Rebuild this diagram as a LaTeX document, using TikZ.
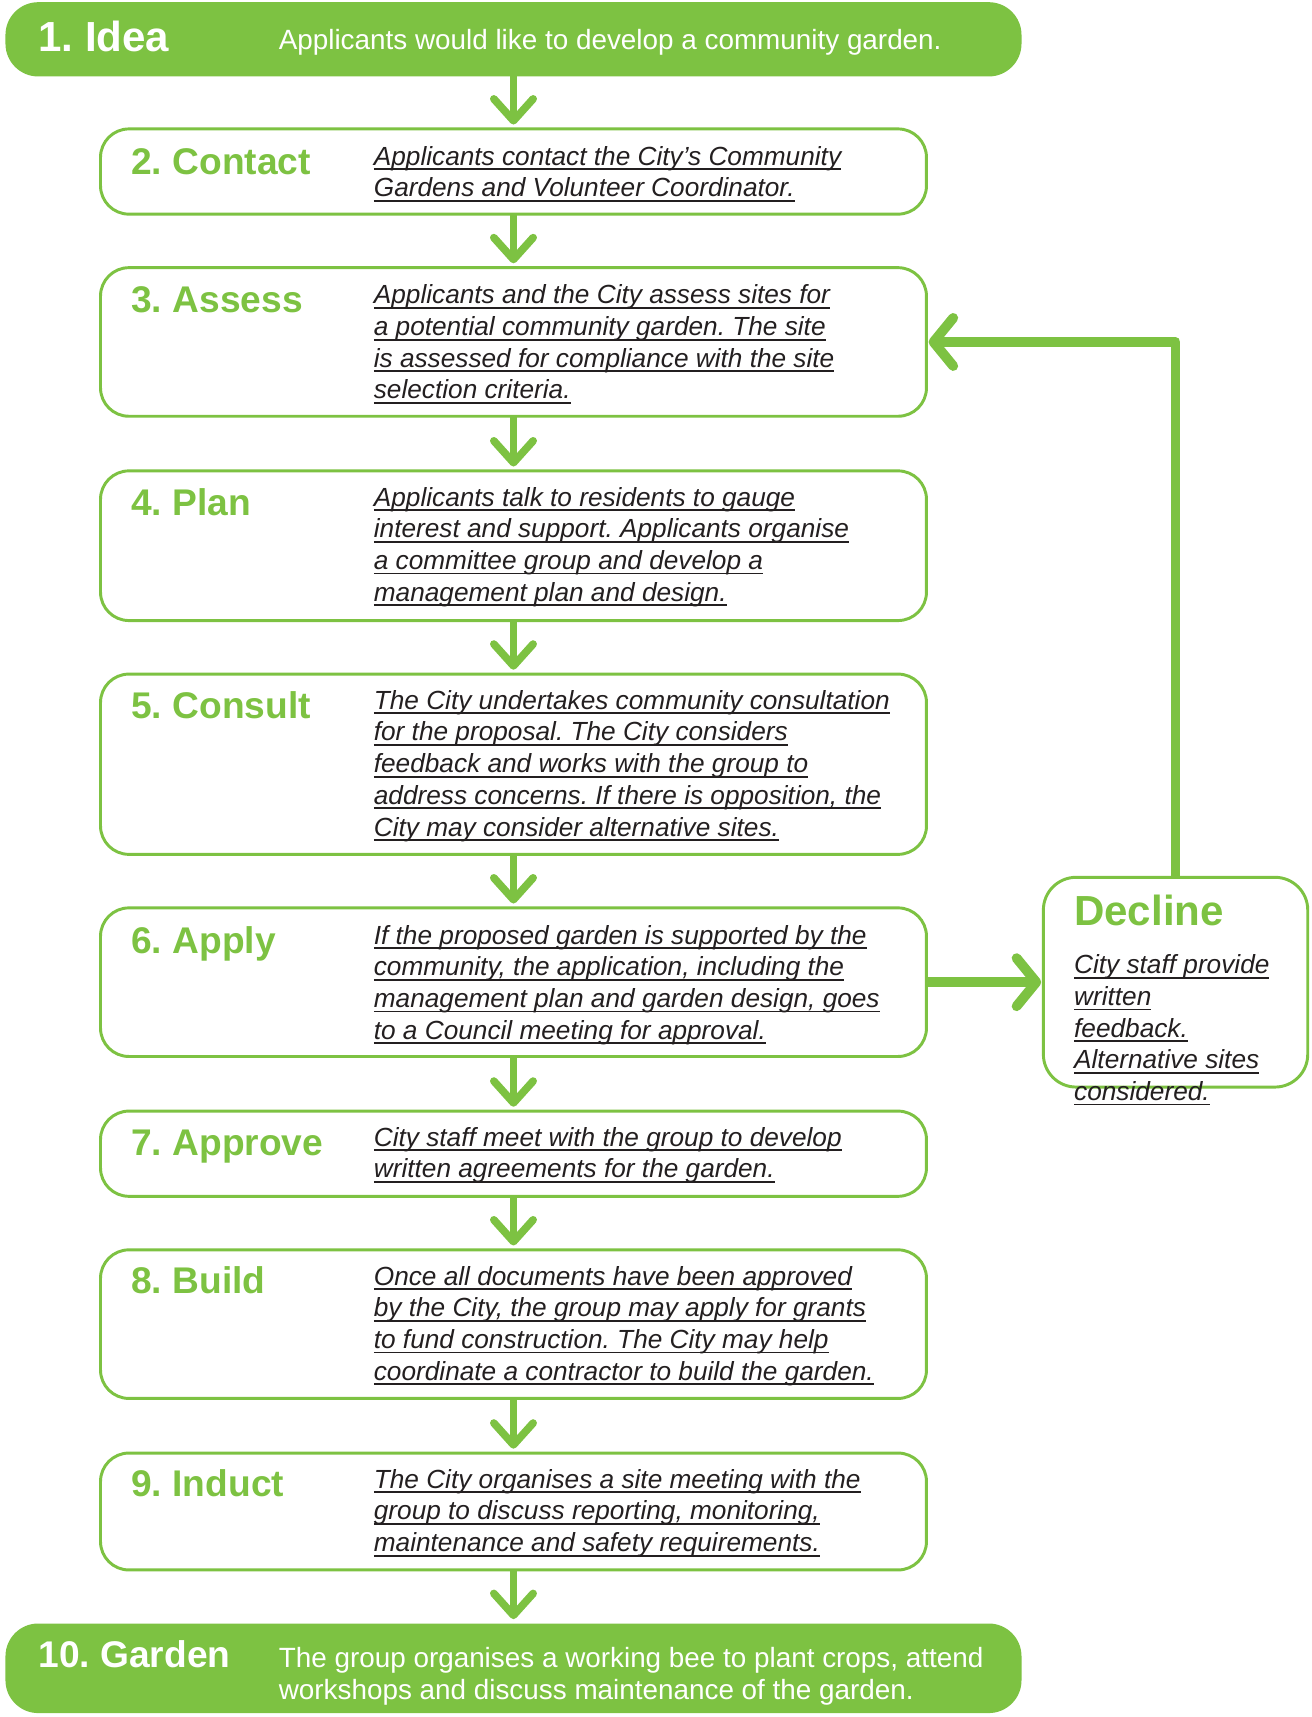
\documentclass[tikz,border=0pt]{standalone}
\usepackage{fontspec}
\setmainfont{Liberation Sans}
\usetikzlibrary{arrows.meta}
\definecolor{gr}{HTML}{7DC242}
\definecolor{tx}{HTML}{231F20}
\frenchspacing
\newcommand\ulline[1]{\strut\setbox0=\hbox{#1}\rlap{\rule[-4.5pt]{\wd0}{1.6pt}}\box0}
\tikzset{
  stepbox/.style={draw=gr, line width=2.7pt, rounded corners=26pt, inner sep=0pt, outer sep=0pt},
  greenbox/.style={fill=gr, draw=none, rounded corners=30pt, inner sep=0pt, outer sep=0pt},
  ttl/.style={anchor=base west, inner sep=0pt, text=gr, font=\bfseries\fontsize{34}{40}\selectfont},
  wttl/.style={ttl, text=white},
  desc/.style={anchor=north west, inner sep=0pt, align=left, text=tx, font=\itshape\fontsize{24}{29}\selectfont},
  wdesc/.style={anchor=north west, inner sep=0pt, align=left, text=white, font=\fontsize{25.5}{29}\selectfont},
  flow/.style={draw=gr, line width=7pt, -{Straight Barb[length=20pt,width=36pt,round]}, shorten >=4pt},
  bigflow/.style={draw=gr, line width=9pt, line join=round, -{Straight Barb[length=18pt,width=44pt,round]}, shorten >=2pt},
}
\begin{document}
\begin{tikzpicture}[x=1pt,y=-1pt]
\useasboundingbox (0,0) rectangle (1200,1571.6);
% boxes
\node[greenbox, minimum width=930pt, minimum height=68pt] (idea) at (470,36) {};
\node[stepbox, minimum width=756pt, minimum height=78pt] (b2) at (470,157) {};
\node[stepbox, minimum width=756pt, minimum height=136pt] (b3) at (470,313) {};
\node[stepbox, minimum width=756pt, minimum height=137pt] (b4) at (470,499.5) {};
\node[stepbox, minimum width=756pt, minimum height=165pt] (b5) at (470,699.5) {};
\node[stepbox, minimum width=756pt, minimum height=136pt] (b6) at (470,899) {};
\node[stepbox, minimum width=756pt, minimum height=78pt] (b7) at (470,1056) {};
\node[stepbox, minimum width=756pt, minimum height=136pt] (b8) at (470,1212) {};
\node[stepbox, minimum width=756pt, minimum height=107pt] (b9) at (470,1383.5) {};
\node[greenbox, minimum width=930pt, minimum height=82pt] (garden) at (470,1527) {};
\node[stepbox, rounded corners=30pt, minimum width=242pt, minimum height=192pt] (dec) at (1076,899) {};
% connectors
\draw[flow] (idea.south) -- (b2.north);
\draw[flow] (b2.south) -- (b3.north);
\draw[flow] (b3.south) -- (b4.north);
\draw[flow] (b4.south) -- (b5.north);
\draw[flow] (b5.south) -- (b6.north);
\draw[flow] (b6.south) -- (b7.north);
\draw[flow] (b7.south) -- (b8.north);
\draw[flow] (b8.south) -- (b9.north);
\draw[flow] (b9.south) -- (garden.north);
\draw[bigflow] (b6.east) -- (dec.west);
\draw[bigflow] (dec.north) -- (dec.north |- b3.east) -- (b3.east);
% titles
\node[wttl, font=\bfseries\fontsize{38.5}{44}\selectfont] (t1) at (35,47) {1. Idea};
\node[ttl] (t2) at (120,160) {2. Contact};
\node[ttl] (t3) at (120,286) {3. Assess};
\node[ttl] (t4) at (120,472) {4. Plan};
\node[ttl] (t5) at (120,658) {5. Consult};
\node[ttl] (t6) at (120,873) {6. Apply};
\node[ttl] (t7) at (120,1058) {7. Approve};
\node[ttl] (t8) at (120,1184) {8. Build};
\node[ttl] (t9) at (120,1370) {9. Induct};
\node[wttl] (t10) at (35,1526) {10. Garden};
\node[ttl, font=\bfseries\fontsize{38.5}{44}\selectfont] (tdec) at (983,847) {Decline};
% descriptions
\node[wdesc] (d1) at (255,24.7) {\strut Applicants would like to develop a community garden.};
\node[desc] (d2) at (342,130.7) {\ulline{Applicants contact the City’s Community}\\\ulline{Gardens and Volunteer Coordinator.}};
\node[desc] (d3) at (342,257.7) {\ulline{Applicants and the City assess sites for}\\\ulline{a potential community garden. The site}\\\ulline{is assessed for compliance with the site}\\\ulline{selection criteria.}};
\node[desc] (d4) at (342,442.7) {\ulline{Applicants talk to residents to gauge}\\\ulline{interest and support. Applicants organise}\\\ulline{a committee group and develop a}\\\ulline{management plan and design.}};
\node[desc] (d5) at (342,628.7) {\ulline{The City undertakes community consultation}\\\ulline{for the proposal. The City considers}\\\ulline{feedback and works with the group to}\\\ulline{address concerns. If there is opposition, the}\\\ulline{City may consider alternative sites.}};
\node[desc] (d6) at (342,843.7) {\ulline{If the proposed garden is supported by the}\\\ulline{community, the application, including the}\\\ulline{management plan and garden design, goes}\\\ulline{to a Council meeting for approval.}};
\node[desc] (d7) at (342,1028.7) {\ulline{City staff meet with the group to develop}\\\ulline{written agreements for the garden.}};
\node[desc] (d8) at (342,1155.7) {\ulline{Once all documents have been approved}\\\ulline{by the City, the group may apply for grants}\\\ulline{to fund construction. The City may help}\\\ulline{coordinate a contractor to build the garden.}};
\node[desc] (d9) at (342,1341.7) {\ulline{The City organises a site meeting with the}\\\ulline{group to discuss reporting, monitoring,}\\\ulline{maintenance and safety requirements.}};
\node[desc] (ddec) at (983,870.7) {\ulline{City staff provide}\\\ulline{written}\\\ulline{feedback.}\\\ulline{Alternative sites}\\\ulline{considered.}};
\node[wdesc] (d10) at (255,1505.7) {\strut The group organises a working bee to plant crops, attend\\\strut workshops and discuss maintenance of the garden.};
\end{tikzpicture}
\end{document}
